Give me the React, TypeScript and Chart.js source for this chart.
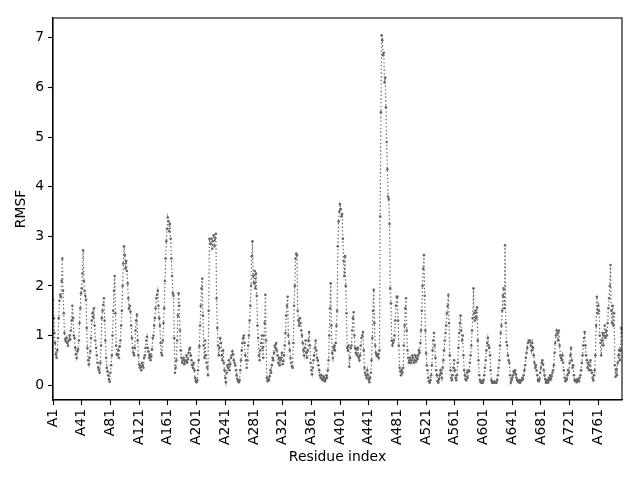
import { useEffect, useRef } from "react";
import { Chart, registerables } from "chart.js";

Chart.register(...registerables);

// RMSF per residue
const rmsf: number[] = [
  1.72, 1.35, 1.05, 0.85, 0.62, 0.55, 0.7, 0.95, 1.35, 1.7,
  1.82, 1.78, 2.1, 2.55, 1.9, 1.45, 1.05, 0.92, 0.88, 0.95,
  0.85, 0.8, 0.9, 1.0, 0.92, 1.1, 1.3, 1.6, 1.35, 1.0,
  0.95, 0.75, 0.62, 0.55, 0.68, 0.72, 0.9, 1.25, 1.55, 1.85,
  1.95, 2.25, 2.72, 2.1, 1.9, 1.8, 1.72, 1.15, 0.75, 0.5,
  0.42, 0.55, 0.68, 0.95, 1.3, 1.45, 1.38, 1.55, 1.2, 0.9,
  0.75, 0.6, 0.45, 0.35, 0.3, 0.25, 0.45, 0.8, 1.35, 1.5,
  1.62, 1.75, 1.3, 0.9, 0.55, 0.35, 0.28, 0.2, 0.12, 0.07,
  0.25, 0.4, 0.6, 1.0, 1.5, 1.9, 2.2, 1.45, 0.8, 0.62,
  0.6, 0.7, 0.55, 0.78, 0.9, 1.2, 1.5, 2.0, 2.45, 2.8,
  2.62, 2.35, 2.5, 2.3, 2.05, 1.75, 1.55, 1.6, 1.48, 1.2,
  0.95, 0.75, 0.65, 0.6, 0.75, 1.1, 1.3, 1.42, 0.9, 0.6,
  0.42, 0.35, 0.38, 0.3, 0.45, 0.4, 0.35, 0.55, 0.6, 0.75,
  0.9, 0.97, 0.75, 0.68, 0.55, 0.62, 0.5, 0.58, 0.72, 0.95,
  1.0, 1.2, 1.35, 1.55, 1.75, 1.82, 1.9, 1.6, 1.35, 1.2,
  0.85, 0.65, 0.6, 0.9, 1.25, 1.55, 2.1, 2.55, 2.9, 3.15,
  3.38, 3.3, 3.1, 3.25, 2.95, 2.55, 2.2, 1.85, 1.8, 0.95,
  0.25, 0.35, 0.5, 0.9, 1.4, 1.85, 1.6, 1.1, 0.7, 0.55,
  0.45, 0.5, 0.55, 0.42, 0.5, 0.48, 0.6, 0.45, 0.52, 0.65,
  0.72, 0.75, 0.6, 0.5, 0.4, 0.35, 0.45, 0.3, 0.15, 0.08,
  0.06, 0.1, 0.3, 0.5, 0.78, 1.2, 1.6, 1.95, 2.15, 1.4,
  0.8, 0.55, 0.9, 0.6, 0.45, 0.35, 0.2, 1.5, 2.95, 2.85,
  2.85, 2.95, 2.75, 2.9, 3.02, 2.8, 2.95, 3.05, 1.75, 1.15,
  0.8, 0.6, 0.75, 0.95, 0.85, 0.6, 0.5, 0.7, 0.45, 0.3,
  0.15, 0.06, 0.25, 0.4, 0.35, 0.5, 0.3, 0.42, 0.55, 0.6,
  0.68, 0.62, 0.5, 0.45, 0.4, 0.3, 0.2, 0.12, 0.08, 0.06,
  0.1, 0.3, 0.5, 0.7, 0.85, 0.95, 1.0, 0.85, 0.6, 0.5,
  0.35, 0.5, 0.8, 1.0, 1.3, 1.6, 2.0, 2.6, 2.9, 2.2,
  2.05, 2.3, 1.95, 2.25, 1.8, 1.2, 0.95, 0.6, 0.5, 0.7,
  0.85, 1.0, 0.75, 0.55, 1.0, 1.25, 1.82, 0.9, 0.15, 0.08,
  0.12, 0.1, 0.18, 0.3, 0.25, 0.4, 0.55, 0.5, 0.65, 0.8,
  0.75, 0.85, 0.7, 0.6, 0.45, 0.55, 0.4, 0.5, 0.55, 0.65,
  0.42, 0.48, 0.6, 0.8, 1.05, 1.4, 1.6, 1.78, 1.0, 0.85,
  0.7, 0.55, 0.45, 0.38, 0.35, 0.85, 1.6, 2.0, 2.55, 2.65,
  2.62, 1.5, 1.3, 1.2, 1.35, 1.25, 1.1, 1.0, 0.85, 0.7,
  0.6, 0.75, 0.9, 0.65, 0.55, 0.7, 0.9, 1.07, 0.8, 0.45,
  0.3, 0.22, 0.35, 0.5, 0.6, 0.75, 0.9, 0.7, 0.55, 0.5,
  0.4, 0.3, 0.2, 0.15, 0.2, 0.12, 0.1, 0.18, 0.15, 0.08,
  0.12, 0.2, 0.15, 0.3, 0.5, 1.0, 1.55, 2.05, 1.2, 0.65,
  0.55, 0.75, 0.8, 0.7, 0.85, 1.2, 1.5, 2.8, 3.3, 3.5,
  3.65, 3.55, 3.4, 3.45, 2.95, 2.5, 2.2, 2.6, 2.0, 1.45,
  0.75, 0.7, 0.8, 0.37, 0.55, 0.75, 0.8, 1.1, 1.35, 1.47,
  1.0, 0.75, 0.65, 0.72, 0.6, 0.75, 0.55, 0.5, 0.6, 0.8,
  0.95, 1.0, 1.07, 0.7, 0.35, 0.25, 0.2, 0.15, 0.3, 0.2,
  0.12, 0.06, 0.15, 0.25, 0.5, 0.95, 1.5, 1.92, 1.25, 0.8,
  0.65, 0.6, 0.58, 0.62, 0.55, 0.7, 3.4, 5.5, 7.05, 6.95,
  6.65, 6.7, 6.1, 6.2, 5.6, 4.9, 4.35, 3.8, 3.75, 3.25,
  1.95, 1.65, 0.9, 0.8, 0.85, 0.9, 1.0, 1.3, 1.6, 1.78,
  1.78, 1.3, 0.8, 0.35, 0.28, 0.2, 0.3, 0.25, 0.35, 0.8,
  1.2, 1.55, 1.75, 1.1, 0.7, 0.55, 0.45, 0.5, 0.55, 0.45,
  0.5, 0.6, 0.55, 0.45, 0.5, 0.6, 0.48, 0.55, 0.52, 0.6,
  0.7, 0.65, 0.85, 1.1, 1.5, 2.0, 2.35, 2.62, 1.8, 1.1,
  0.64, 0.4, 0.3, 0.15, 0.08, 0.05, 0.1, 0.2, 0.4, 0.7,
  0.9, 1.05, 0.8, 0.55, 0.3, 0.2, 0.08, 0.05, 0.12, 0.2,
  0.3, 0.25, 0.15, 0.35, 0.5, 0.7, 0.9, 1.05, 1.2, 1.45,
  1.6, 1.82, 1.25, 0.6, 0.3, 0.15, 0.1, 0.2, 0.35, 0.5,
  0.3, 0.15, 0.1, 0.2, 0.45, 0.75, 1.05, 1.25, 1.4, 1.1,
  0.9, 1.0, 0.6, 0.3, 0.2, 0.12, 0.1, 0.25, 0.15, 0.3,
  0.28, 0.45, 0.6, 0.8, 1.1, 1.35, 1.95, 1.45, 1.3, 1.5,
  1.35, 1.57, 0.9, 0.5, 0.2, 0.1, 0.06, 0.05, 0.08, 0.05,
  0.1, 0.2, 0.35, 0.5, 0.7, 0.85, 0.95, 0.8, 0.75, 0.6,
  0.3, 0.1, 0.05, 0.06, 0.05, 0.07, 0.05, 0.06, 0.05, 0.1,
  0.2, 0.35, 0.5, 0.8, 1.05, 1.2, 1.5, 1.8, 1.95, 1.55,
  2.82, 1.25, 0.87, 0.8, 0.6, 0.5, 0.45, 0.2, 0.05, 0.1,
  0.15, 0.2, 0.28, 0.25, 0.3, 0.22, 0.15, 0.1, 0.08, 0.06,
  0.1, 0.05, 0.08, 0.1, 0.15, 0.12, 0.2, 0.3, 0.4, 0.55,
  0.65, 0.75, 0.85, 0.9, 0.88, 0.9, 0.8, 0.7, 0.85, 0.75,
  0.6, 0.45, 0.35, 0.4, 0.3, 0.2, 0.1, 0.08, 0.12, 0.25,
  0.35, 0.45, 0.5, 0.42, 0.3, 0.2, 0.12, 0.05, 0.08, 0.1,
  0.05, 0.15, 0.1, 0.2, 0.12, 0.18, 0.25, 0.3, 0.4, 0.65,
  0.85, 1.0, 1.1, 1.05, 0.9, 1.1, 0.8, 0.6, 0.55, 0.5,
  0.6, 0.45, 0.3, 0.15, 0.08, 0.1, 0.12, 0.2, 0.3, 0.25,
  0.45, 0.6, 0.75, 0.5, 0.35, 0.4, 0.2, 0.1, 0.08, 0.1,
  0.06, 0.12, 0.1, 0.08, 0.15, 0.2, 0.3, 0.45, 0.6, 0.8,
  0.95, 1.07, 0.8, 0.6, 0.5, 0.35, 0.45, 0.3, 0.4, 0.5,
  0.3, 0.25, 0.15, 0.1, 0.2, 0.3, 0.6, 1.2, 1.78, 1.45,
  1.6, 1.5, 1.0, 0.85, 0.6, 0.9, 1.05, 0.8, 1.0, 1.2,
  0.95, 1.1, 1.0, 1.25, 1.55, 1.75, 2.0, 2.42, 1.5, 1.25,
  1.6, 1.2, 1.45, 0.4, 0.17, 0.3, 0.2, 0.45, 0.6, 0.7,
  0.5, 0.7, 1.15, 1.05,
];

// residue names along the x axis
const residues: string[] = rmsf.map((_, i) => `A${i + 1}`);

// x tick positions (residue index) and their labels
const xTickIdx: number[] = [0, 40, 80, 120, 160, 200, 240, 280, 320, 360, 400, 440, 480, 520, 560, 600, 640, 680, 720, 760];
const yTicks: number[] = [0, 1, 2, 3, 4, 5, 6, 7];

const FONT = "'DejaVu Sans', sans-serif";
const GRAY = "#666666";

const framePlugin = {
  id: "frame",
  afterDraw(chart: Chart) {
    const { ctx, chartArea } = chart;
    ctx.save();
    ctx.strokeStyle = "#000";
    ctx.lineWidth = 1.1;
    ctx.strokeRect(chartArea.left, chartArea.top, chartArea.right - chartArea.left, chartArea.bottom - chartArea.top);
    ctx.restore();
  },
};

export default function App() {
  const canvasRef = useRef<HTMLCanvasElement>(null);

  useEffect(() => {
    if (!canvasRef.current) return;
    const chart = new Chart(canvasRef.current, {
      type: "line",
      data: {
        datasets: [
          {
            label: "RMSF",
            data: rmsf.map((y, i) => ({ x: i, y })),
            borderColor: GRAY,
            borderWidth: 1.2,
            borderDash: [1.4, 2.3],
            pointRadius: 1.3,
            pointBorderWidth: 0,
            pointBackgroundColor: GRAY,
            tension: 0,
          },
        ],
      },
      options: {
        responsive: false,
        animation: false,
        layout: { padding: { top: 18, right: 18, left: 0, bottom: 0 } },
        plugins: {
          legend: { display: false },
          tooltip: { enabled: false },
        },
        scales: {
          x: {
            type: "linear",
            min: 0,
            max: rmsf.length - 1,
            afterBuildTicks: (scale: any) => {
              scale.ticks = xTickIdx.map((v) => ({ value: v }));
            },
            afterFit: (scale: any) => {
              scale.height = 80;
            },
            grid: { drawOnChartArea: false, tickLength: 5, tickColor: "#000", tickWidth: 1.1 },
            border: { display: true, color: "#000", width: 1.1 },
            ticks: {
              autoSkip: false,
              maxRotation: 90,
              minRotation: 90,
              padding: 4,
              color: "#000",
              font: { family: FONT, size: 13.9 },
              callback: (v: any) => residues[Number(v)] ?? "",
            },
            title: {
              display: true,
              text: "Residue index",
              color: "#000",
              font: { family: FONT, size: 13.9 },
              padding: { top: 0, bottom: 14 },
            },
          },
          y: {
            type: "linear",
            min: -0.3,
            max: 7.4,
            afterBuildTicks: (scale: any) => {
              scale.ticks = yTicks.map((v) => ({ value: v }));
            },
            afterFit: (scale: any) => {
              scale.width = 53;
            },
            grid: { drawOnChartArea: false, tickLength: 5, tickColor: "#000", tickWidth: 1.1 },
            border: { display: true, color: "#000", width: 1.1 },
            ticks: {
              padding: 4,
              color: "#000",
              font: { family: FONT, size: 13.9 },
              callback: (v: any) => String(v),
            },
            title: {
              display: true,
              text: "RMSF",
              color: "#000",
              font: { family: FONT, size: 13.9 },
              padding: { top: 13, bottom: 0 },
            },
          },
        },
      },
      plugins: [framePlugin],
    });
    return () => chart.destroy();
  }, []);

  return (
    <div style={{ position: "absolute", left: 0, top: 0, width: 640, height: 480, background: "#fff" }}>
      <canvas ref={canvasRef} width={640} height={480} />
    </div>
  );
}
